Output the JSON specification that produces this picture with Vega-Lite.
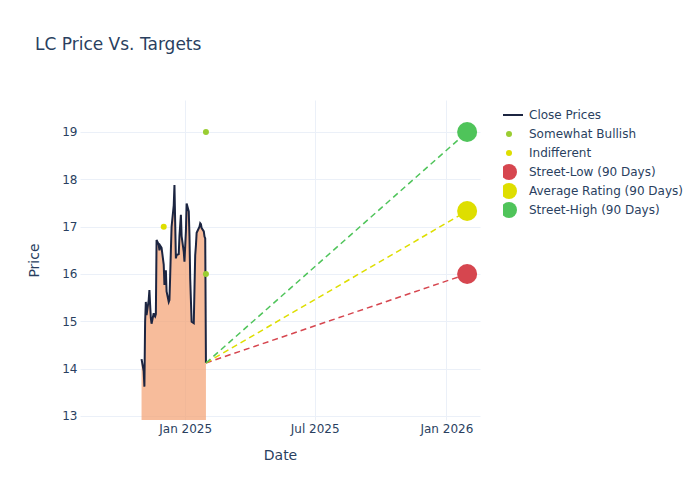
{
  "$schema": "https://vega.github.io/schema/vega-lite/v6.json",
  "width": 400,
  "height": 320,
  "autosize": {"type": "none"},
  "padding": {"left": 80, "top": 100, "right": 220, "bottom": 80},
  "background": "white",
  "config": {
    "font": "DejaVu Sans",
    "view": {"stroke": null},
    "axis": {"labelColor": "#2a3f5f", "titleColor": "#2a3f5f", "labelFontSize": 12, "titleFontSize": 14, "titleFontWeight": "normal", "gridColor": "#ebf0f8", "gridWidth": 1, "domain": false, "ticks": false}
  },
  "title": {"text": "LC Price Vs. Targets", "anchor": "start", "frame": "group", "dx": -45, "offset": 46, "fontSize": 17, "fontWeight": "normal", "color": "#2a3f5f", "font": "DejaVu Sans"},
  "datasets": {
    "prices": [
      {"date": "2024-11-01", "close": 14.20},
      {"date": "2024-11-04", "close": 13.95},
      {"date": "2024-11-05", "close": 13.62},
      {"date": "2024-11-06", "close": 14.99},
      {"date": "2024-11-07", "close": 15.41},
      {"date": "2024-11-08", "close": 15.13},
      {"date": "2024-11-11", "close": 15.45},
      {"date": "2024-11-12", "close": 15.66},
      {"date": "2024-11-13", "close": 15.35},
      {"date": "2024-11-14", "close": 15.07},
      {"date": "2024-11-15", "close": 14.95},
      {"date": "2024-11-18", "close": 15.17},
      {"date": "2024-11-19", "close": 15.12},
      {"date": "2024-11-20", "close": 15.10},
      {"date": "2024-11-21", "close": 15.15},
      {"date": "2024-11-22", "close": 16.72},
      {"date": "2024-11-25", "close": 16.62},
      {"date": "2024-11-26", "close": 16.50},
      {"date": "2024-11-27", "close": 16.60},
      {"date": "2024-11-29", "close": 16.55},
      {"date": "2024-12-02", "close": 16.20},
      {"date": "2024-12-03", "close": 15.77},
      {"date": "2024-12-04", "close": 15.90},
      {"date": "2024-12-05", "close": 16.08},
      {"date": "2024-12-06", "close": 15.63},
      {"date": "2024-12-09", "close": 15.41},
      {"date": "2024-12-10", "close": 15.45},
      {"date": "2024-12-11", "close": 15.95},
      {"date": "2024-12-12", "close": 16.50},
      {"date": "2024-12-13", "close": 17.00},
      {"date": "2024-12-16", "close": 17.45},
      {"date": "2024-12-17", "close": 17.88},
      {"date": "2024-12-18", "close": 17.10},
      {"date": "2024-12-19", "close": 16.33},
      {"date": "2024-12-20", "close": 16.40},
      {"date": "2024-12-23", "close": 16.42},
      {"date": "2024-12-24", "close": 16.80},
      {"date": "2024-12-26", "close": 17.25},
      {"date": "2024-12-27", "close": 16.80},
      {"date": "2024-12-30", "close": 16.47},
      {"date": "2024-12-31", "close": 16.26},
      {"date": "2025-01-02", "close": 16.90},
      {"date": "2025-01-03", "close": 17.49},
      {"date": "2025-01-06", "close": 17.32},
      {"date": "2025-01-07", "close": 16.80},
      {"date": "2025-01-08", "close": 15.90},
      {"date": "2025-01-10", "close": 14.99},
      {"date": "2025-01-13", "close": 14.96},
      {"date": "2025-01-14", "close": 15.70},
      {"date": "2025-01-15", "close": 16.40},
      {"date": "2025-01-16", "close": 16.60},
      {"date": "2025-01-17", "close": 16.87},
      {"date": "2025-01-21", "close": 17.00},
      {"date": "2025-01-22", "close": 17.07},
      {"date": "2025-01-23", "close": 17.05},
      {"date": "2025-01-24", "close": 16.97},
      {"date": "2025-01-27", "close": 16.90},
      {"date": "2025-01-28", "close": 16.79},
      {"date": "2025-01-29", "close": 16.75},
      {"date": "2025-01-30", "close": 14.12}
    ],
    "ratings": [
      {"date": "2024-12-02", "target": 17, "series": "Indifferent"},
      {"date": "2025-01-30", "target": 19, "series": "Somewhat Bullish"},
      {"date": "2025-01-30", "target": 16, "series": "Somewhat Bullish"}
    ],
    "targets": [
      {"start": "2025-01-30", "startPrice": 14.12, "date": "2026-01-30", "target": 16.0, "series": "Street-Low (90 Days)"},
      {"start": "2025-01-30", "startPrice": 14.12, "date": "2026-01-30", "target": 17.33, "series": "Average Rating (90 Days)"},
      {"start": "2025-01-30", "startPrice": 14.12, "date": "2026-01-30", "target": 19.0, "series": "Street-High (90 Days)"}
    ]
  },
  "encoding": {
    "x": {"field": "date", "type": "temporal",
      "scale": {"type": "utc", "domain": [{"year": 2024, "month": 8, "date": 7, "utc": true}, {"year": 2026, "month": 2, "date": 17, "utc": true}]},
      "axis": {"title": "Date", "values": [{"year": 2025, "month": 1, "date": 1, "utc": true}, {"year": 2025, "month": 7, "date": 1, "utc": true}, {"year": 2026, "month": 1, "date": 1, "utc": true}], "labelExpr": "utcFormat(datum.value, '%b %Y')", "labelPadding": 3, "titlePadding": 14, "labelFlush": false}},
    "y": {"type": "quantitative",
      "scale": {"domain": [12.915, 19.676], "zero": false, "nice": false},
      "axis": {"title": "Price", "values": [13, 14, 15, 16, 17, 18, 19], "labelPadding": 3, "titlePadding": 20}}
  },
  "layer": [
    {
      "data": {"name": "prices"},
      "mark": {"type": "area", "color": "#f4a070", "opacity": 0.7, "clip": true},
      "encoding": {"y": {"field": "close"}}
    },
    {
      "data": {"name": "prices"},
      "mark": {"type": "line", "strokeWidth": 2, "clip": true},
      "encoding": {
        "y": {"field": "close"},
        "color": {"datum": "Close Prices", "type": "nominal", "title": null,
          "scale": {"domain": ["Close Prices", "Somewhat Bullish", "Indifferent", "Street-Low (90 Days)", "Average Rating (90 Days)", "Street-High (90 Days)"],
                    "range": ["#1c2541", "#9acd32", "#dede00", "#d6464f", "#dede00", "#4fc45a"]},
          "legend": {"title": null, "orient": "none", "legendX": 423, "legendY": 7, "labelFontSize": 12, "labelColor": "#2a3f5f", "symbolSize": 256, "rowPadding": 3, "clipHeight": 16, "labelOffset": 14, "symbolLimit": 0,
            "encode": {"symbols": {"update": {
              "shape": {"signal": "datum.value === 'Close Prices' ? 'stroke' : 'circle'"},
              "size": {"signal": "datum.value === 'Close Prices' ? 784 : ((datum.value === 'Somewhat Bullish' || datum.value === 'Indifferent') ? 36 : 256)"},
              "fill": {"signal": "datum.value === 'Close Prices' ? 'transparent' : scale('color', datum.value)"},
              "stroke": {"signal": "scale('color', datum.value)"},
              "strokeWidth": {"signal": "datum.value === 'Close Prices' ? 2 : 0"},
              "opacity": {"value": 1},
              "fillOpacity": {"value": 1},
              "strokeDash": {"value": []}
            }}}}
        }
      }
    },
    {
      "data": {"name": "targets"},
      "mark": {"type": "rule", "strokeDash": [6, 4], "strokeWidth": 1.5},
      "encoding": {
        "x": {"field": "start", "type": "temporal"},
        "x2": {"field": "date"},
        "y": {"field": "startPrice", "type": "quantitative"},
        "y2": {"field": "target"},
        "color": {"field": "series", "type": "nominal", "title": null}
      }
    },
    {
      "data": {"name": "ratings"},
      "mark": {"type": "circle", "size": 36, "opacity": 1},
      "encoding": {
        "y": {"field": "target"},
        "color": {"field": "series", "type": "nominal", "title": null}
      }
    },
    {
      "data": {"name": "targets"},
      "mark": {"type": "circle", "size": 400, "opacity": 1},
      "encoding": {
        "y": {"field": "target"},
        "color": {"field": "series", "type": "nominal", "title": null}
      }
    }
  ]
}
